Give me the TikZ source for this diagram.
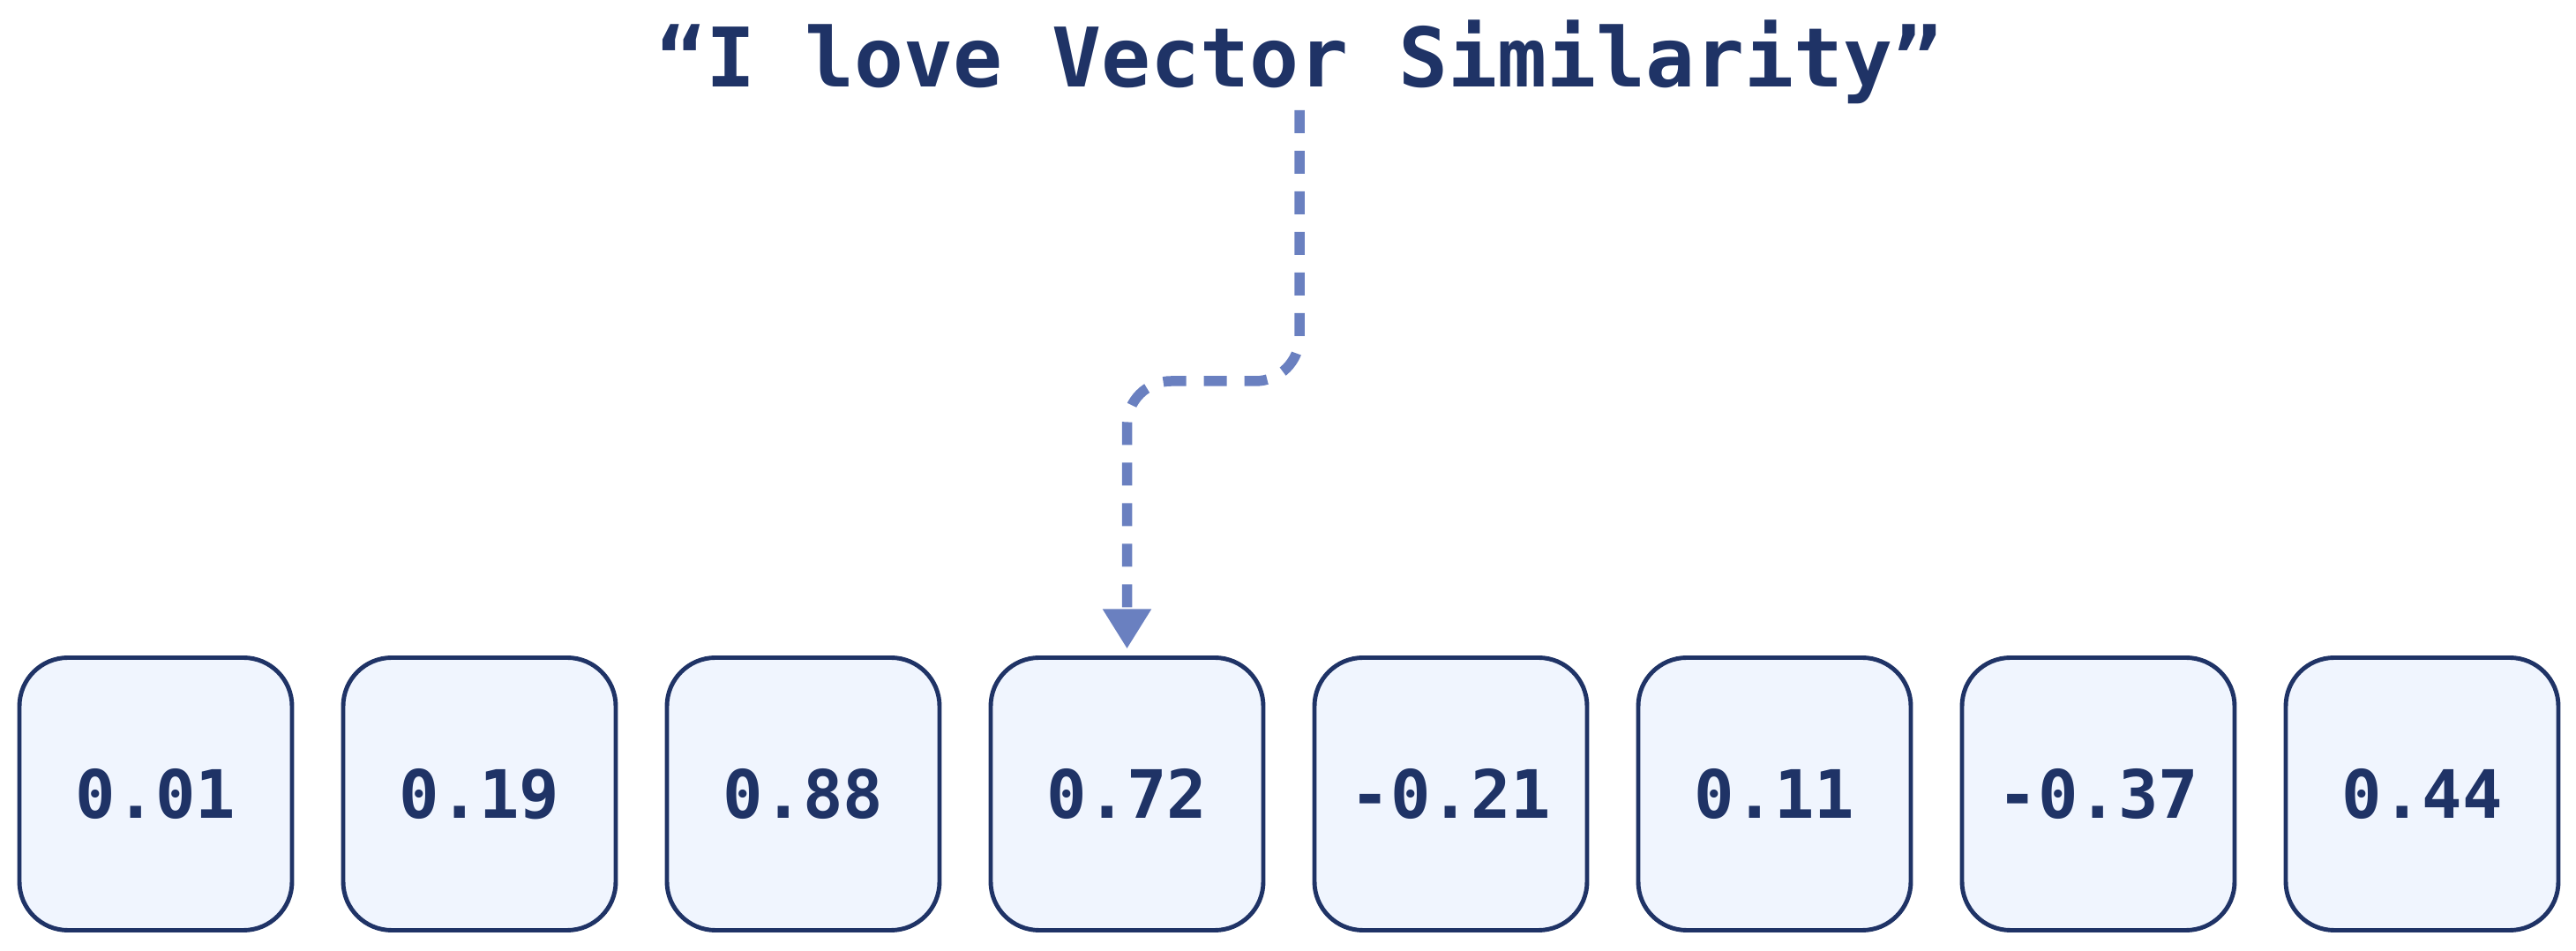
\documentclass[tikz,border=0pt]{standalone}
\usepackage{fontspec}
\setmonofont{DejaVu Sans Mono}
\usepackage{tikz}
\usetikzlibrary{calc,arrows.meta}
\usetikzlibrary{positioning}
\definecolor{vs-text}{HTML}{1F3366}
\definecolor{vs-fill}{HTML}{F0F5FE}
\definecolor{vs-flow}{HTML}{6A80C0}

\begin{document}
\begin{tikzpicture}[
    node distance=0.58cm,
    font=\ttfamily\bfseries,
    >=latex
  ]

  % Global Style Definitions
  \tikzset{
    cell/.style={draw=vs-text, fill=vs-fill, line width=1.4pt, outer sep=0pt, rounded corners=0.55cm, minimum width=3.09cm, minimum height=3.09cm, text=vs-text, font=\fontsize{21.5}{24}\selectfont\ttfamily\bfseries, align=center, inner sep=0pt},
    phrase/.style={text=vs-text, font=\fontsize{26.5}{30}\selectfont\ttfamily\bfseries, inner sep=0pt},
    flow/.style={vs-flow, line width=0.115cm, dash pattern=on 0.26cm off 0.2cm, rounded corners=0.5cm, -{Triangle[width=0.52cm, length=0.45cm]}}
  }

  \useasboundingbox (0,0) rectangle (29.2,-10.78);

  % Sentence
  \node (title) [phrase, anchor=base] at (14.73,-0.99) {“I love Vector Similarity”};

  % Embedding vector
  \node (v1) [cell] at (1.765,-9.0) {0.01};
  \node (v2) [cell, right=of v1] {0.19};
  \node (v3) [cell, right=of v2] {0.88};
  \node (v4) [cell, right=of v3] {0.72};
  \node (v5) [cell, right=of v4] {-0.21};
  \node (v6) [cell, right=of v5] {0.11};
  \node (v7) [cell, right=of v6] {-0.37};
  \node (v8) [cell, right=of v7] {0.44};

  % Embedding path
  \coordinate (elbow) at (0,-4.32);
  \draw[flow, shorten >=0.1cm] ([yshift=-0.06cm]title.south) |- (elbow -| v4.north) -- (v4.north);

\end{tikzpicture}
\end{document}
